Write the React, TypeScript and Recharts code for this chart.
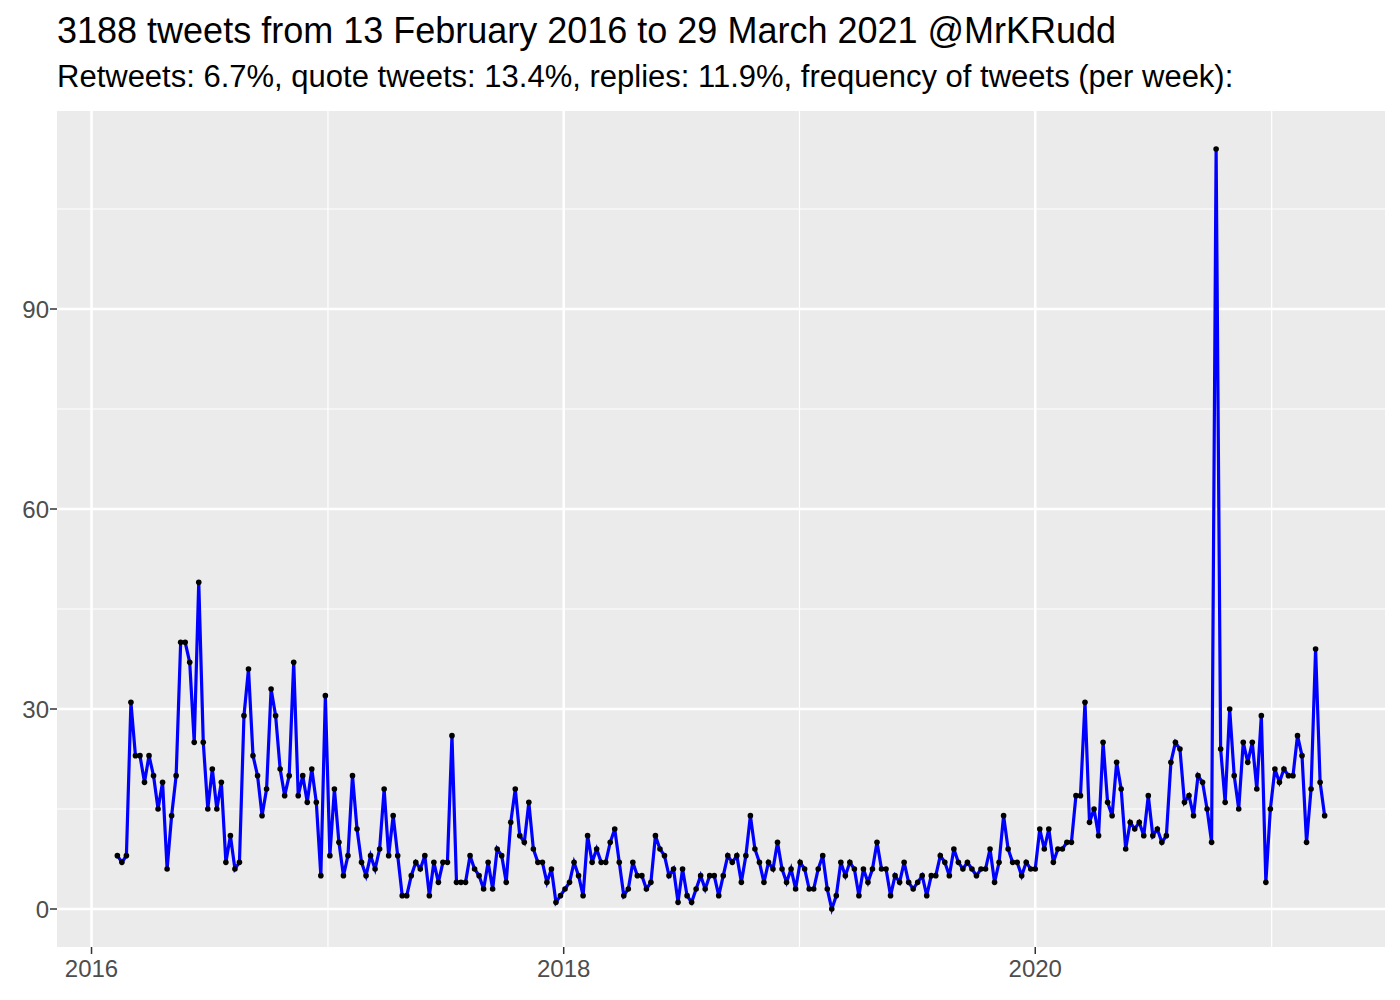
import React from "react";
import { LineChart, Line, XAxis, YAxis, CartesianGrid, ReferenceLine } from "recharts";

const TITLE = "3188 tweets from 13 February 2016 to 29 March 2021 @MrKRudd";
const SUBTITLE =
  "Retweets: 6.7%, quote tweets: 13.4%, replies: 11.9%, frequency of tweets (per week):";

const firstWeek = "2016-02-10";

const weeklyCounts = [
  8, 7, 8, 31, 23, 23, 19, 23, 20, 15, 19, 6, 14, 20, 40, 40, 37, 25, 49, 25, 15, 21, 15, 19, 7,
  11, 6, 7, 29, 36, 23, 20, 14, 18, 33, 29, 21, 17, 20, 37, 17, 20, 16, 21, 16, 5, 32, 8, 18, 10,
  5, 8, 20, 12, 7, 5, 8, 6, 9, 18, 8, 14, 8, 2, 2, 5, 7, 6, 8, 2, 7, 4, 7, 7, 26, 4,
  4, 4, 8, 6, 5, 3, 7, 3, 9, 8, 4, 13, 18, 11, 10, 16, 9, 7, 7, 4, 6, 1, 2, 3,
  4, 7, 5, 2, 11, 7, 9, 7, 7, 10, 12, 7, 2, 3, 7, 5, 5, 3, 4, 11, 9, 8, 5, 6, 1, 6,
  2, 1, 3, 5, 3, 5, 5, 2, 5, 8, 7, 8, 4, 8, 14, 9, 7, 4, 7, 6, 10, 6, 4, 6, 3, 7,
  6, 3, 3, 6, 8, 3, 0, 2, 7, 5, 7, 6, 2, 6, 4, 6, 10, 6, 6, 2, 5, 4, 7, 4, 3,
  4, 5, 2, 5, 5, 8, 7, 5, 9, 7, 6, 7, 6, 5, 6, 6, 9, 4, 7, 14, 9, 7, 7, 5, 7, 6,
  6, 12, 9, 12, 7, 9, 9, 10, 10, 17, 17, 31, 13, 15, 11, 25, 16, 14, 22, 18, 9, 13, 12, 13, 11,
  17, 11, 12, 10, 11, 22, 25, 24, 16, 17, 14, 20, 19, 15, 10, 114, 24, 16, 30, 20, 15, 25, 22, 25, 18, 29,
  4, 15, 21, 19, 21, 20, 20, 26, 23, 10, 18, 39, 19, 14,
];

const xMajorYears = ["2016", "2018", "2020"];
const xMinorYears = ["2017", "2019", "2021"];
const yMajorTicks = [0, 30, 60, 90];
const yMinorTicks = [15, 45, 75, 105];

const DAY = 86400000;
const start = Date.parse(firstWeek + "T00:00:00Z");
const data = weeklyCounts.map((v, i) => ({ t: start + i * 7 * DAY, v }));

const yearTs = (y: string) => Date.parse(y + "-01-01T00:00:00Z");
const xMajor = xMajorYears.map(yearTs);
const xMinor = xMinorYears.map(yearTs);

const tMin = data[0].t;
const tMax = data[data.length - 1].t;
const tPad = (tMax - tMin) * 0.05;
const vMax = Math.max(...weeklyCounts);
const vMin = Math.min(...weeklyCounts);
const vPad = (vMax - vMin) * 0.05;

const FONT = "'Liberation Sans', Arial, Helvetica, sans-serif";
const MINOR_W = 1.2;
const MAJOR_W = 2.5;

export default function App() {
  return (
    <div style={{ position: "absolute", left: 0, top: 0, width: 1400, height: 1000, background: "#fff" }}>
      <LineChart
        width={1400}
        height={1000}
        data={data}
        margin={{ top: 111, right: 15, left: 0, bottom: 0 }}
      >
        <CartesianGrid fill="#EBEBEB" horizontal={false} vertical={false} stroke="none" />
        {yMinorTicks.map((v) => (
          <ReferenceLine key={"ym" + v} y={v} stroke="#FFFFFF" strokeWidth={MINOR_W} />
        ))}
        {xMinor.map((v) => (
          <ReferenceLine key={"xm" + v} x={v} stroke="#FFFFFF" strokeWidth={MINOR_W} />
        ))}
        {yMajorTicks.map((v) => (
          <ReferenceLine key={"yM" + v} y={v} stroke="#FFFFFF" strokeWidth={MAJOR_W} />
        ))}
        {xMajor.map((v) => (
          <ReferenceLine key={"xM" + v} x={v} stroke="#FFFFFF" strokeWidth={MAJOR_W} />
        ))}
        <XAxis
          dataKey="t"
          type="number"
          scale="linear"
          domain={[tMin - tPad, tMax + tPad]}
          ticks={xMajor}
          tickFormatter={(v: number) => String(new Date(v).getUTCFullYear())}
          axisLine={false}
          tickLine={{ stroke: "#333333", strokeWidth: 1.5 }}
          tickSize={7}
          tickMargin={6}
          height={53}
          tick={{ fill: "#4D4D4D", fontSize: 24, fontFamily: FONT }}
          allowDataOverflow
        />
        <YAxis
          type="number"
          domain={[vMin - vPad, vMax + vPad]}
          ticks={yMajorTicks}
          axisLine={false}
          tickLine={{ stroke: "#333333", strokeWidth: 1.5 }}
          tickSize={7}
          tickMargin={1}
          width={57}
          tick={{ fill: "#4D4D4D", fontSize: 24, fontFamily: FONT }}
          allowDataOverflow
        />
        <Line
          type="linear"
          dataKey="v"
          stroke="#0000FF"
          strokeWidth={3.2}
          dot={{ r: 2.8, fill: "#000000", stroke: "none" }}
          activeDot={false}
          isAnimationActive={false}
        />
      </LineChart>
      <svg
        width={1400}
        height={110}
        style={{ position: "absolute", left: 0, top: 0, pointerEvents: "none" }}
      >
        <text x={57} y={43} fontFamily={FONT} fontSize={36} fill="#000">
          {TITLE}
        </text>
        <text x={57} y={87} fontFamily={FONT} fontSize={31} fill="#000">
          {SUBTITLE}
        </text>
      </svg>
    </div>
  );
}
